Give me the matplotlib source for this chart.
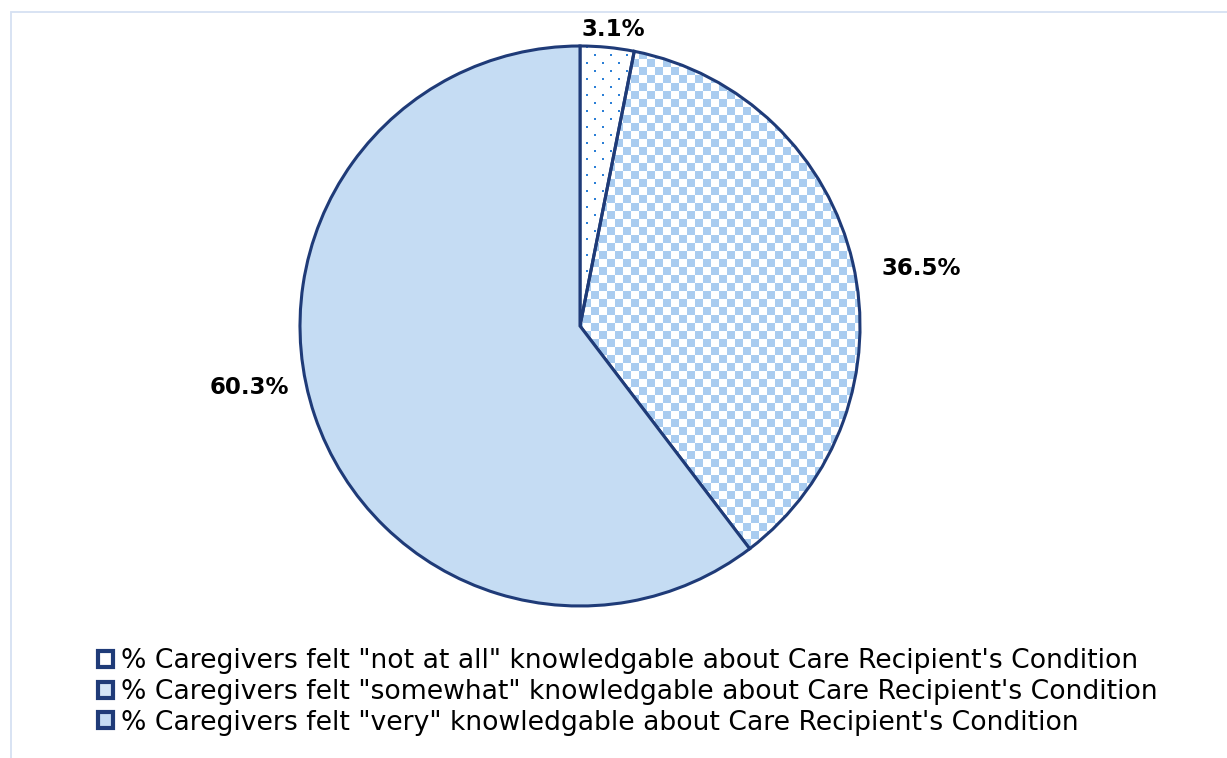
import numpy as np
import matplotlib
matplotlib.use('Agg')
import matplotlib.pyplot as plt
from matplotlib.patches import Patch, Rectangle

plt.rcParams['font.family'] = 'DejaVu Sans'

# knowledge levels reported by caregivers
levels = ['"not at all"', '"somewhat"', '"very"']
shares = [3.1, 36.5, 60.3]
labels = ["% Caregivers felt " + l + " knowledgable about Care Recipient's Condition" for l in levels]

W, H = 1227, 758
navy = '#1F3B78'
checker_blue = '#A9CCF0'
solid_blue = '#C5DCF3'
dot_blue = '#2C7FD6'

fig = plt.figure(figsize=(W / 100, H / 100), dpi=100)
ax = fig.add_axes([0, 0, 1, 1])

cx, cy, r = 580, H - 326, 280
wedges, _ = ax.pie(shares, startangle=90, counterclock=False, radius=r,
                   center=(cx, cy), frame=True,
                   colors=['none', 'none', solid_blue],
                   wedgeprops=dict(edgecolor=navy, linewidth=2.2, zorder=2))

# outer frame of the chart area
ax.add_patch(Rectangle((11, -20), W + 40, H - 12 + 20, fill=False,
                       edgecolor='#D6E0F2', lw=1.3, zorder=0))

# fill patterns, clipped to the wedges
x0, y0 = cx - r - 5, cy - r - 5
size = 2 * r + 10
yy, xx = np.mgrid[0:size, 0:size]
checker = ((xx // 8 + yy // 8) % 2 == 0)
chk_img = np.ones((size, size, 3))
chk_img[checker] = matplotlib.colors.to_rgb(checker_blue)
im = ax.imshow(chk_img, extent=(x0, x0 + size, y0, y0 + size), origin='lower',
               interpolation='nearest', zorder=1)
im.set_clip_path(wedges[1])

# staggered dots: rows 8px apart, 16px along a row, alternate rows shifted
row = yy // 8
dots = ((yy % 8) < 2) & (((xx + (row % 2) * 8) % 16) < 2)
dot_img = np.ones((size, size, 3))
dot_img[dots] = matplotlib.colors.to_rgb(dot_blue)
im2 = ax.imshow(dot_img, extent=(x0 + 3, x0 + 3 + size, y0 + 3, y0 + 3 + size),
                origin='lower', interpolation='nearest', zorder=1)
im2.set_clip_path(wedges[0])

ax.set_xlim(0, W)
ax.set_ylim(0, H)
ax.set_aspect('equal')
ax.axis('off')

# percentage labels: angular offset (deg) and radial factor per slice
label_place = [(-0.8, 1.064), (-3.6, 1.235), (-8.4, 1.2)]
start = 90.0
for w, s, (dang, rf) in zip(wedges, shares, label_place):
    span = s / 100 * 360
    mid = start - span / 2
    start -= span
    a = np.deg2rad(mid + dang)
    ax.text(cx + rf * r * np.cos(a), cy + rf * r * np.sin(a), '%.1f%%' % s,
            ha='center', va='center', fontsize=16.5, fontweight='bold', color='black')

handles = [Patch(facecolor='white', edgecolor=navy, lw=3),
           Patch(facecolor='#D4E5F7', edgecolor=navy, lw=3),
           Patch(facecolor=solid_blue, edgecolor=navy, lw=3)]
fig.legend(handles, labels, loc='center left', bbox_to_anchor=(98 / W, 1 - 692 / H),
           frameon=False, fontsize=19.2, handlelength=0.55, handleheight=0.55,
           handletextpad=0.3, labelspacing=0.18, borderpad=0, borderaxespad=0)

fig.savefig('out.png', dpi=100)
